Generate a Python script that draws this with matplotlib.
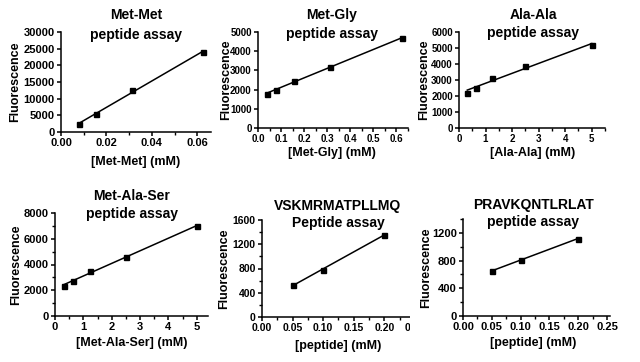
import numpy as np
import matplotlib
matplotlib.use("Agg")
import matplotlib.pyplot as plt
from matplotlib.patches import Rectangle
from matplotlib.ticker import MultipleLocator, FormatStrFormatter

plt.rcParams['font.family'] = ['Liberation Sans', 'DejaVu Sans']
plt.rcParams['font.weight'] = 'bold'
plt.rcParams['axes.labelweight'] = 'bold'

# data
metmet_x = [0.0078, 0.0156, 0.03125, 0.0625]
metmet_y = [2380, 5360, 12600, 23950]

metgly_x = [0.039, 0.078, 0.156, 0.3125, 0.625]
metgly_y = [1790, 2000, 2430, 3190, 4690]

alaala_x = [0.3125, 0.625, 1.25, 2.5, 5]
alaala_y = [2160, 2520, 3150, 3900, 5160]

metalaser_x = [0.3125, 0.625, 1.25, 2.5, 5]
metalaser_y = [2310, 2750, 3500, 4570, 6990]

vsk_x = [0.05, 0.10, 0.20]
vsk_y = [528, 776, 1360]

prav_x = [0.05, 0.10, 0.20]
prav_y = [648, 813, 1118]

W, H = 640, 362
fig = plt.figure(figsize=(6.4, 3.62), dpi=100)


def fx(px):
    return px / W


def fy(py):
    return 1 - py / H


def panel(x, y, box, title, xlabel, xlim, xmaj, xmin, xfmt, ylim, ymaj, ymin,
          ylab_x, xlab_pos, title_y, tsize):
    left, right, top, bottom = box
    ax = fig.add_axes([fx(left), fy(bottom), fx(right - left), (bottom - top) / H])
    x = np.array(x)
    y = np.array(y)
    slope, icpt = np.polyfit(x, y, 1)
    xs = np.array([x.min(), x.max()])
    ax.plot(xs, slope * xs + icpt, color='black', lw=1.1, clip_on=False)
    ax.plot(x, y, 's', color='black', ms=3.6, clip_on=False)

    ax.set_xlim(*xlim)
    ax.set_ylim(*ylim)
    ax.xaxis.set_major_locator(MultipleLocator(xmaj))
    ax.xaxis.set_minor_locator(MultipleLocator(xmin))
    ax.xaxis.set_major_formatter(FormatStrFormatter(xfmt))
    ax.yaxis.set_major_locator(MultipleLocator(ymaj))
    if ymin:
        ax.yaxis.set_minor_locator(MultipleLocator(ymin))
    for s in ['top', 'right']:
        ax.spines[s].set_visible(False)
    for s in ['left', 'bottom']:
        ax.spines[s].set_linewidth(1.1)
    ax.tick_params(which='major', direction='out', length=3, width=1.1,
                   labelsize=tsize, pad=1.5)
    ax.tick_params(which='minor', direction='out', length=2, width=1.0)
    ax.patch.set_alpha(0)

    ax.set_ylabel('Fluorescence', fontsize=9)
    ax.yaxis.label.set_va('center')
    ax.yaxis.set_label_coords(fx(ylab_x), fy((top + bottom) / 2), transform=fig.transFigure)
    ax.set_xlabel(xlabel, fontsize=9)
    ax.xaxis.label.set_va('center')
    ax.xaxis.set_label_coords(fx(xlab_pos[0]), fy(xlab_pos[1]), transform=fig.transFigure)

    cx = xlab_pos[0]
    fig.text(fx(cx), fy(title_y[0]), title[0], ha='center', va='center', fontsize=10)
    fig.text(fx(cx), fy(title_y[1]), title[1], ha='center', va='center', fontsize=10)
    return ax


panel(metmet_x, metmet_y, (61, 211, 32, 132), ('Met-Met', 'peptide assay'),
      '[Met-Met] (mM)', (0, 0.066), 0.02, 0.01, '%.2f', (0, 30000), 5000, None,
      15, (136, 162), (15, 35), 8)
panel(metgly_x, metgly_y, (258, 408, 32, 128), ('Met-Gly', 'peptide assay'),
      '[Met-Gly] (mM)', (0, 0.65), 0.1, 0.05, '%.1f', (0, 5000), 1000, None,
      226, (332, 153), (15, 34), 7)
panel(alaala_x, alaala_y, (459, 605, 32, 128), ('Ala-Ala', 'peptide assay'),
      '[Ala-Ala] (mM)', (0, 5.5), 1, 0.5, '%d', (0, 6000), 1000, None,
      424, (533, 153), (15, 33), 7)
panel(metalaser_x, metalaser_y, (55, 208, 213, 316), ('Met-Ala-Ser', 'peptide assay'),
      '[Met-Ala-Ser] (mM)', (0, 5.4), 1, 0.5, '%d', (0, 8000), 2000, 1000,
      16, (132, 343), (196, 214), 8)
panel(vsk_x, vsk_y, (262, 418, 220, 317), ('VSKMRMATPLLMQ', 'Peptide assay'),
      '[peptide] (mM)', (0, 0.255), 0.05, 0.025, '%.2f', (0, 1600), 400, 200,
      224, (338, 346), (206, 223), 7.5)

# the last panel sits over the right end of the one before it
fig.add_artist(Rectangle((fx(410), 0), 1, fy(181), transform=fig.transFigure,
                         facecolor='white', edgecolor='none', zorder=1))
ax6 = panel(prav_x, prav_y, (463, 610, 219, 316), ('PRAVKQNTLRLAT', 'peptide assay'),
            '[peptide] (mM)', (0, 0.255), 0.05, 0.025, '%.2f', (0, 1400), 400, 200,
            426, (533, 343), (205, 222), 8)
ax6.set_zorder(2)

fig.savefig('out.png', dpi=100)
